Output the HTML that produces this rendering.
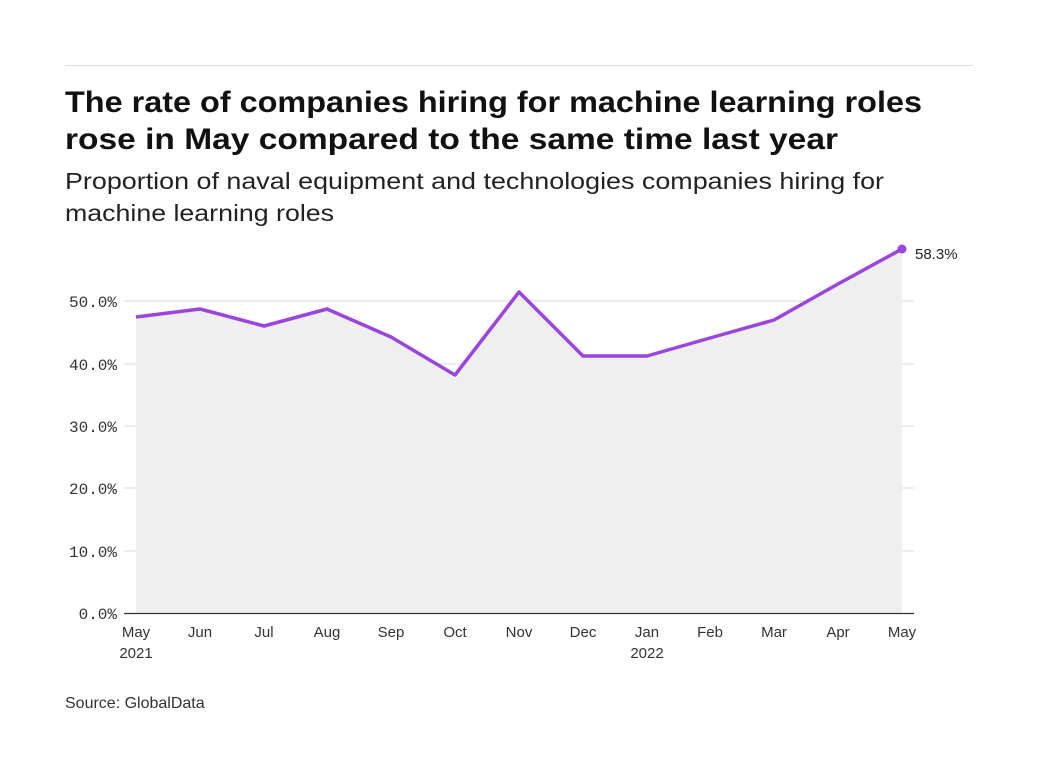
<!DOCTYPE html>
<html><head><meta charset="utf-8"><style>
html,body{margin:0;padding:0;background:#fff;width:1038px;height:778px;overflow:hidden;font-family:"Liberation Sans",sans-serif;}
</style></head><body>
<svg width="1038" height="778" xmlns="http://www.w3.org/2000/svg">
<line x1="65" y1="65.5" x2="973" y2="65.5" stroke="#ddd" stroke-width="1"/>
<text x="65" y="112" font-family="Liberation Sans" font-weight="bold" font-size="30" fill="#111" textLength="857" lengthAdjust="spacingAndGlyphs">The rate of companies hiring for machine learning roles</text>
<text x="65" y="149" font-family="Liberation Sans" font-weight="bold" font-size="30" fill="#111" textLength="773" lengthAdjust="spacingAndGlyphs">rose in May compared to the same time last year</text>
<text x="65" y="189" font-family="Liberation Sans" font-size="23" fill="#222" textLength="819" lengthAdjust="spacingAndGlyphs">Proportion of naval equipment and technologies companies hiring for</text>
<text x="65" y="221" font-family="Liberation Sans" font-size="23" fill="#222" textLength="269" lengthAdjust="spacingAndGlyphs">machine learning roles</text>
<g stroke="#e6e6e6" stroke-width="1.5">
<line x1="124" y1="301" x2="914" y2="301"/>
<line x1="124" y1="364" x2="914" y2="364"/>
<line x1="124" y1="426" x2="914" y2="426"/>
<line x1="124" y1="488" x2="914" y2="488"/>
<line x1="124" y1="551" x2="914" y2="551"/>
</g>
<polygon points="136,613 136,317 200,309 264,326 327,309 391,337 455,375 519,292 583,356 647,356 710,338 774,320 838,284 902,249 902,613" fill="#efefef"/>
<line x1="124" y1="613.5" x2="914" y2="613.5" stroke="#333" stroke-width="1.2"/>
<polyline points="136,317 200,309 264,326 327,309 391,337 455,375 519,292 583,356 647,356 710,338 774,320 838,284 902,249" fill="none" stroke="#9b45dd" stroke-width="3.5" stroke-linejoin="round"/>
<circle cx="902" cy="249" r="4.5" fill="#9b45dd"/>
<text x="915" y="259" font-family="Liberation Sans" font-size="15" fill="#222">58.3%</text>
<g font-family="Liberation Mono" font-size="16" fill="#333" text-anchor="end">
<text x="117" y="307">50.0%</text>
<text x="117" y="370">40.0%</text>
<text x="117" y="432">30.0%</text>
<text x="117" y="494">20.0%</text>
<text x="117" y="557">10.0%</text>
<text x="117" y="619">0.0%</text>
</g>
<g font-family="Liberation Sans" font-size="15" fill="#333" text-anchor="middle">
<text x="136" y="637">May</text><text x="136" y="658">2021</text>
<text x="200" y="637">Jun</text><text x="264" y="637">Jul</text><text x="327" y="637">Aug</text>
<text x="391" y="637">Sep</text><text x="455" y="637">Oct</text><text x="519" y="637">Nov</text>
<text x="583" y="637">Dec</text><text x="647" y="637">Jan</text><text x="647" y="658">2022</text>
<text x="710" y="637">Feb</text><text x="774" y="637">Mar</text><text x="838" y="637">Apr</text><text x="902" y="637">May</text>
</g>
<text x="65" y="708" font-family="Liberation Sans" font-size="16" fill="#333">Source: GlobalData</text>
</svg>
</body></html>
